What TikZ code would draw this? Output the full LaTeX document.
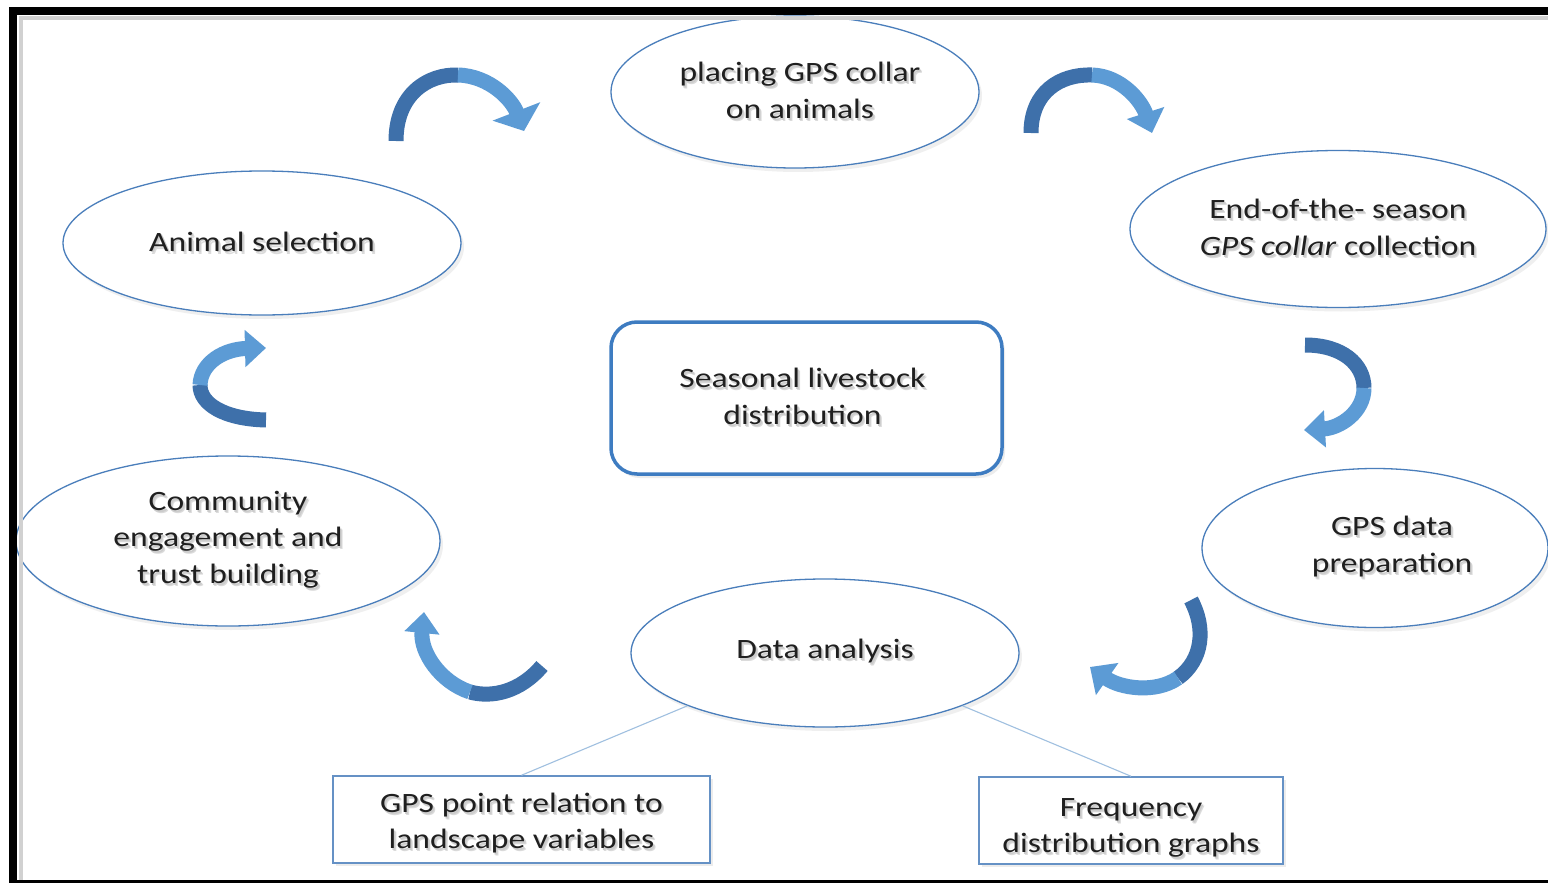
\documentclass[tikz,border=0pt]{standalone}
\usepackage{fontspec}
\setmainfont{Carlito}[FakeStretch=1.2]
\usetikzlibrary{shapes.geometric,arrows.meta,shadows}

\definecolor{edgeblue}{RGB}{74,126,187}
\definecolor{hubblue}{RGB}{62,124,193}
\definecolor{arrdark}{RGB}{62,112,170}
\definecolor{arrlight}{RGB}{92,155,213}
\definecolor{linkblue}{RGB}{160,192,224}

% text with a soft grey shadow behind it
\newcommand{\shd}[1]{\leavevmode\rlap{\kern2.5pt\raisebox{-3pt}{\textcolor{black!14}{#1}}}\rlap{\kern1.5pt\raisebox{-1.8pt}{\textcolor{black!20}{#1}}}#1}

\begin{document}
\begin{tikzpicture}[x=1pt,y=-1pt,
  txt/.style={font=\fontsize{28}{36.5}\selectfont, align=center, text=black!88},
  oval/.style={ellipse, draw=edgeblue, line width=1.3pt, fill=white, inner sep=0pt,
    drop shadow={opacity=0.12, shadow xshift=3pt, shadow yshift=-4pt}, txt},
  hub/.style={rectangle, rounded corners=26pt, draw=hubblue, line width=3.5pt, fill=white,
    inner sep=0pt, drop shadow={opacity=0.15, shadow xshift=3pt, shadow yshift=-4pt}, txt},
  tag/.style={rectangle, draw=edgeblue!85, line width=1.5pt, fill=white, inner sep=0pt,
    drop shadow={opacity=0.15, shadow xshift=3pt, shadow yshift=-3pt}},
  tagtext/.style={label={[txt, yshift=#1]center:{}}},
  link/.style={draw=linkblue, line width=1.1pt},
  ribbon/.style={line width=15pt, line cap=butt},
  head/.style={-{Triangle[width=#1,length=21pt]}},
  head/.default=38pt
]
\useasboundingbox (0,0) rectangle (1548,883);
\fill[white] (0,0) rectangle (1548,883);

% ---- stages of the cycle ----
\node[oval, minimum width=368pt, minimum height=152pt] (collar) at (795,92)
  {\hspace*{10pt}\shd{placing GPS collar}\\\hspace*{10pt}\shd{on animals}};
\node[oval, minimum width=398pt, minimum height=144pt] (select) at (262,243)
  {\shd{Animal selection}};
\node[oval, minimum width=416pt, minimum height=157pt] (collect) at (1338,229)
  {\shd{End-of-the- season}\\\shd{\textit{GPS collar} collection}};
\node[oval, minimum width=346pt, minimum height=159pt] (prep) at (1375,548)
  {\hspace*{34pt}\shd{GPS data}\\\hspace*{34pt}\shd{preparation}};
\node[oval, minimum width=424pt, minimum height=170pt] (trust) at (228,541)
  {\shd{Community}\\\shd{engagement and}\\\shd{trust building}};
\node[oval, minimum width=388pt, minimum height=148pt] (analysis) at (825,653)
  {\shd{Data analysis}};

% ---- central topic ----
\node[hub, minimum width=391pt, minimum height=152pt] (hubbox) at (806.5,398)
  {\shd{Seasonal livestock}\hspace*{8pt}\\\shd{distribution}\hspace*{8pt}};

% ---- analysis outputs ----
\node[tag, minimum width=377pt, minimum height=87pt,
      label={[txt, yshift=-5pt]center:{\shd{GPS point relation to}\\\shd{landscape variables}}}]
  (relbox) at (521.5,819.5) {};
\node[tag, minimum width=304pt, minimum height=87pt,
      label={[txt, yshift=-9pt]center:{\shd{Frequency}\\\shd{distribution graphs}}}]
  (freqbox) at (1131,820.5) {};

\draw[link] (analysis.201) -- (relbox.north);
\draw[link] (analysis.339) -- (freqbox.north);

% ---- curved ribbon arrows between stages ----
\coordinate (a1s) at (396,141);  \coordinate (a1m) at (458,75);   \coordinate (a1e) at (524,131);
\coordinate (a2s) at (1031,133); \coordinate (a2m) at (1092,75);  \coordinate (a2e) at (1152,133);
\coordinate (a3s) at (1305,345); \coordinate (a3m) at (1364,388); \coordinate (a3e) at (1304,430);
\coordinate (a4s) at (1191,600); \coordinate (a4m) at (1178,678); \coordinate (a4e) at (1090,667);
\coordinate (a5s) at (542,666);  \coordinate (a5m) at (470,692);  \coordinate (a5e) at (424,612);
\coordinate (a6s) at (266,420);  \coordinate (a6m) at (200,385);  \coordinate (a6e) at (266,348);

\draw[ribbon, arrdark] (a1s) .. controls (396,94) and (428,74) .. (a1m);
\draw[ribbon, arrlight, head=50pt] (a1m) .. controls (490,76) and (512,100) .. (a1e);

\draw[ribbon, arrdark] (a2s) .. controls (1031,92) and (1060,74) .. (a2m);
\draw[ribbon, arrlight, head] (a2m) .. controls (1122,76) and (1142,102) .. (a2e);

\draw[ribbon, arrdark] (a3s) .. controls (1342,345) and (1364,364) .. (a3m);
\draw[ribbon, arrlight, head=36pt] (a3m) .. controls (1364,412) and (1340,428) .. (a3e);

\draw[ribbon, arrdark] (a4s) .. controls (1206,628) and (1203,660) .. (a4m);
\draw[ribbon, arrlight, head] (a4m) .. controls (1155,694) and (1120,688) .. (a4e);

\draw[ribbon, arrdark] (a5s) .. controls (520,692) and (492,698) .. (a5m);
\draw[ribbon, arrlight, head=34pt] (a5m) .. controls (440,682) and (420,652) .. (a5e);

\draw[ribbon, arrdark] (a6s) .. controls (224,419) and (200,404) .. (a6m);
\draw[ribbon, arrlight, head=36pt] (a6m) .. controls (201,362) and (225,349) .. (a6e);

% ---- frame ----
\draw[black!18, line width=4pt] (21,883) -- (21,18) -- (1548,18);
\draw[black, line width=8pt, line join=miter] (13,883) -- (13,11) -- (1548,11);
\draw[black, line width=3pt] (9,881.5) -- (1548,881.5);
\end{tikzpicture}
\end{document}
